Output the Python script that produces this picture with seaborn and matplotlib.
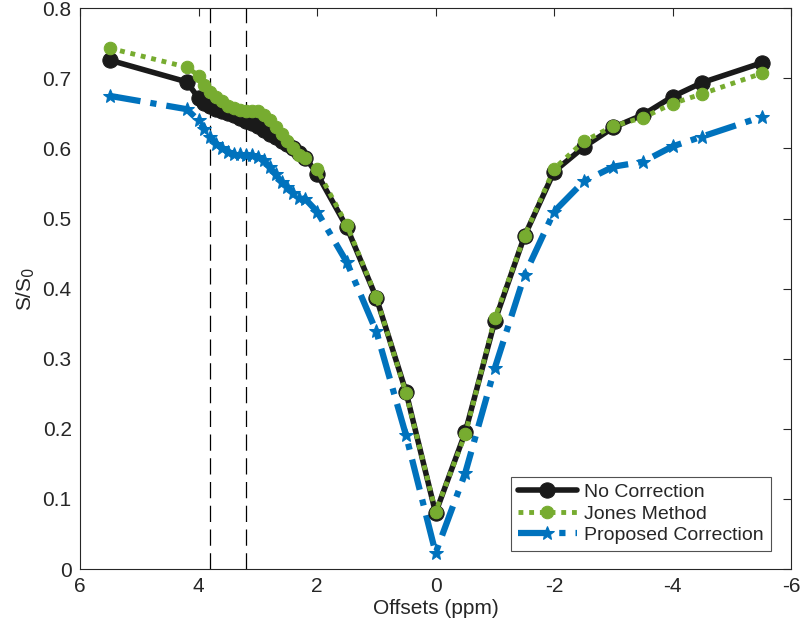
import numpy as np
import pandas as pd
import matplotlib
matplotlib.use('Agg')
import matplotlib.pyplot as plt
import seaborn as sns

# offsets (ppm)
offsets = [5.5, 4.2,
           4.0, 3.9, 3.8, 3.7, 3.6, 3.5, 3.4, 3.3, 3.2, 3.1,
           3.0, 2.9, 2.8, 2.7, 2.6, 2.5, 2.4, 2.3, 2.2,
           2.0, 1.5, 1.0, 0.5, 0.0, -0.5, -1.0, -1.5, -2.0,
           -2.5, -3.0, -3.5, -4.0, -4.5, -5.5]

no_corr = [0.726, 0.695,
           0.672, 0.665, 0.660, 0.656, 0.653, 0.650, 0.647, 0.643, 0.639, 0.636,
           0.632, 0.627, 0.621, 0.617, 0.611, 0.606, 0.600, 0.593, 0.587,
           0.564, 0.488, 0.387, 0.253, 0.080, 0.195, 0.354, 0.475, 0.567,
           0.602, 0.630, 0.648, 0.674, 0.694, 0.722]

jones = [0.743, 0.716,
         0.704, 0.690, 0.680, 0.673, 0.667, 0.661, 0.657, 0.655, 0.654, 0.654,
         0.653, 0.648, 0.640, 0.630, 0.620, 0.610, 0.600, 0.591, 0.587,
         0.570, 0.491, 0.388, 0.251, 0.082, 0.192, 0.358, 0.475, 0.571,
         0.610, 0.632, 0.644, 0.664, 0.678, 0.707]

proposed = [0.675, 0.656,
            0.640, 0.628, 0.616, 0.607, 0.600, 0.595, 0.592, 0.592, 0.591, 0.590,
            0.588, 0.583, 0.573, 0.563, 0.552, 0.545, 0.536, 0.530, 0.528,
            0.510, 0.438, 0.339, 0.191, 0.023, 0.137, 0.287, 0.419, 0.510,
            0.553, 0.574, 0.581, 0.603, 0.617, 0.645]

vlines = [3.8, 3.2]

sns.set_style('white')
plt.rcParams['font.family'] = ['Liberation Sans', 'DejaVu Sans']

fig = plt.figure(figsize=(8, 6.33), dpi=100)
ax = fig.add_axes([0.1, 0.101, 0.889, 0.886])

for xv in vlines:
    ax.axvline(xv, color='black', lw=0.9, dashes=(13, 6), zorder=1)

sns.lineplot(x=offsets, y=no_corr, ax=ax, sort=False, color='#1a1a1a', lw=4,
             marker='o', markersize=11, markeredgecolor='#1a1a1a',
             label='No Correction', zorder=3)
sns.lineplot(x=offsets, y=jones, ax=ax, sort=False, color='#77AC30', lw=3.5,
             marker='o', markersize=9, markeredgecolor='#77AC30',
             label='Jones Method', zorder=4)
ax.lines[-1].set_linestyle((0, (1, 1.2)))
sns.lineplot(x=offsets, y=proposed, ax=ax, sort=False, color='#0072BD', lw=4.5,
             marker='*', markersize=10, markeredgecolor='#0072BD',
             label='Proposed Correction', zorder=2)
ax.lines[-1].set_linestyle((0, (5, 1.6, 1, 1.6)))

ax.set_xlim(6, -6)
ax.set_ylim(0, 0.8)
ax.set_xticks([6, 4, 2, 0, -2, -4, -6])
ax.set_xticklabels(['6', '4', '2', '0', '-2', '-4', '-6'])
ax.set_yticks(np.arange(0, 0.81, 0.1))
ax.set_yticklabels(['0', '0.1', '0.2', '0.3', '0.4', '0.5', '0.6', '0.7', '0.8'])
ax.tick_params(direction='in', length=6, width=0.8, colors='#262626',
               labelsize=15, top=True, right=True, pad=6)
for s in ax.spines.values():
    s.set_color('#262626')
    s.set_linewidth(0.8)

ax.set_xlabel('Offsets (ppm)', fontsize=15, color='#262626', labelpad=2)
ax.set_ylabel('S/S$_0$', fontsize=15, color='#262626', labelpad=4)

leg = ax.legend(loc='lower right', fontsize=14, frameon=True, fancybox=False,
                handlelength=3.0, borderpad=0.35, labelspacing=0.2,
                handletextpad=0.4, bbox_to_anchor=(0.985, 0.015))
leg.get_frame().set_edgecolor('#262626')
leg.get_frame().set_linewidth(0.8)

fig.savefig('out.png', dpi=100)
